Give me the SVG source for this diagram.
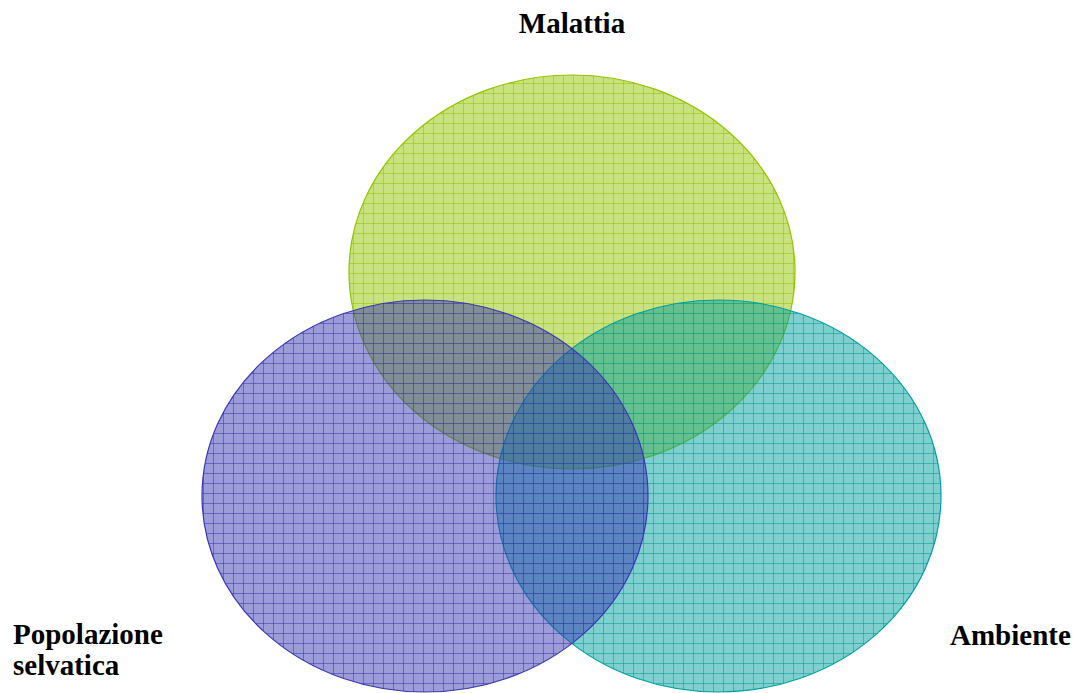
<svg xmlns="http://www.w3.org/2000/svg" width="1076" height="693" viewBox="0 0 1076 693">
<style>
.lbl{font-family:"Liberation Serif","Times New Roman",serif;font-weight:bold;font-size:29px;fill:#000}
</style>
<defs>
<pattern id="pg" patternUnits="userSpaceOnUse" x="3" y="3" width="10" height="10">
<rect width="10" height="10" fill="#91c500" fill-opacity="0.5"/>
<path d="M0.5 0V10M0 0.5H10" stroke="#91c500" stroke-opacity="0.55" stroke-width="1" fill="none"/>
</pattern>
<pattern id="pt" patternUnits="userSpaceOnUse" x="3" y="3" width="10" height="10">
<rect width="10" height="10" fill="#009f9f" fill-opacity="0.5"/>
<path d="M0.5 0V10M0 0.5H10" stroke="#009f9f" stroke-opacity="0.55" stroke-width="1" fill="none"/>
</pattern>
<pattern id="pb" patternUnits="userSpaceOnUse" x="3" y="3" width="10" height="10">
<rect width="10" height="10" fill="#3939b1" fill-opacity="0.5"/>
<path d="M0.5 0V10M0 0.5H10" stroke="#3939b1" stroke-opacity="0.55" stroke-width="1" fill="none"/>
</pattern>
</defs>
<g id="malattia">
<ellipse cx="572" cy="272" rx="223" ry="197" fill="url(#pg)" stroke="#91c500" stroke-width="1.2"/>
<text class="lbl" x="572" y="33" text-anchor="middle">Malattia</text>
</g>
<g id="ambiente">
<ellipse cx="718.5" cy="496" rx="222.5" ry="196" fill="url(#pt)" stroke="#009f9f" stroke-width="1.2"/>
<text class="lbl" x="950" y="645">Ambiente</text>
</g>
<g id="popolazione">
<ellipse cx="425" cy="496" rx="223" ry="196" fill="url(#pb)" stroke="#3939b1" stroke-width="1.2"/>
<text class="lbl" x="13" y="644">Popolazione</text>
<text class="lbl" x="13" y="675">selvatica</text>
</g>
<g id="connectors"/>
</svg>
